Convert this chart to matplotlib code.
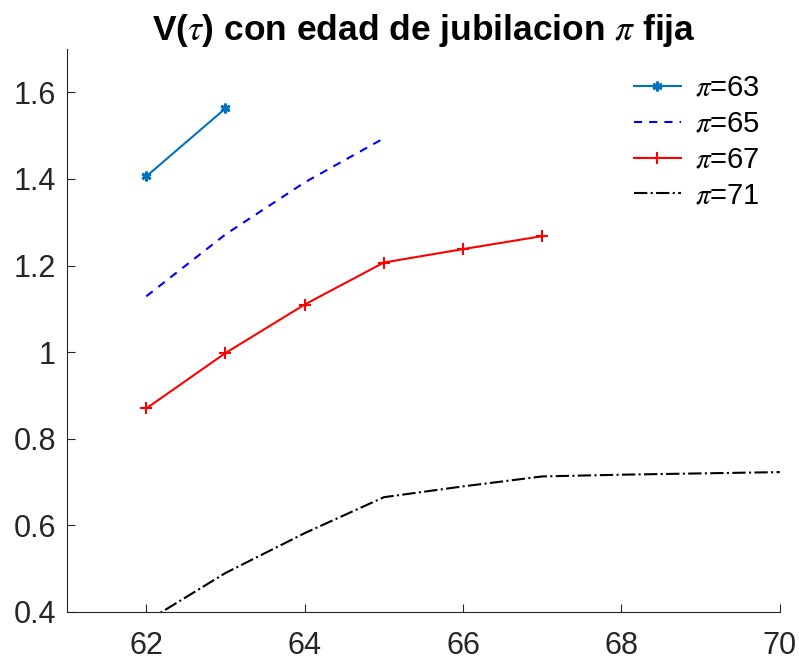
import matplotlib
matplotlib.use("Agg")
import matplotlib.pyplot as plt

plt.rcParams['font.family'] = ['Liberation Sans', 'DejaVu Sans']
plt.rcParams['mathtext.fontset'] = 'stix'

# edad tau y valor V(tau) para cada edad de jubilacion pi
x63 = [62, 63]
v63 = [1.406, 1.563]
x65 = [62, 63, 64, 65]
v65 = [1.129, 1.272, 1.392, 1.494]
x67 = [62, 63, 64, 65, 66, 67]
v67 = [0.870, 0.998, 1.110, 1.207, 1.238, 1.268]
x71 = [62, 63, 64, 65, 66, 67, 68, 69, 70]
v71 = [0.378, 0.490, 0.582, 0.665, 0.690, 0.713, 0.717, 0.720, 0.723]

fig = plt.figure(figsize=(7.99, 6.63), dpi=100)
ax = fig.add_axes([0.084, 0.077, 0.892, 0.849])

ax.plot(x63, v63, '-', color=(0, 0.447, 0.741), lw=1.5, marker=(6, 2, 0), ms=7, mew=2, label=r'$\pi$=63')
ax.plot(x65, v65, '--', color='b', lw=1.5, dashes=(3.9, 3.4), label=r'$\pi$=65')
ax.plot(x67, v67, '-', color='r', lw=1.5, marker='+', ms=8, mew=1.5, label=r'$\pi$=67')
ax.plot(x71, v71, '-.', color='k', lw=1.5, label=r'$\pi$=71')

ax.set_xlim(61, 70)
ax.set_ylim(0.4, 1.7)
ax.set_xticks([62, 64, 66, 68, 70])
ax.set_yticks([0.4, 0.6, 0.8, 1.0, 1.2, 1.4, 1.6])
ax.set_yticklabels(['0.4', '0.6', '0.8', '1', '1.2', '1.4', '1.6'])

for s in ['top', 'right']:
    ax.spines[s].set_visible(False)
for s in ['left', 'bottom']:
    ax.spines[s].set_color('#262626')
    ax.spines[s].set_linewidth(0.8)
ax.tick_params(direction='in', length=6, width=0.8, colors='#262626', labelsize=22)
ax.tick_params(axis='x', pad=14)
ax.tick_params(axis='y', pad=8)

ax.set_title(r'V($\tau$) con edad de jubilacion $\pi$ fija', fontsize=25.5, fontweight='bold', pad=6)

ax.legend(loc='upper right', frameon=False, fontsize=21, handlelength=1.6,
          handletextpad=0.5, labelspacing=0.27, borderaxespad=0,
          bbox_to_anchor=(0.966, 0.906), bbox_transform=fig.transFigure)

fig.savefig('out.png', dpi=100)
